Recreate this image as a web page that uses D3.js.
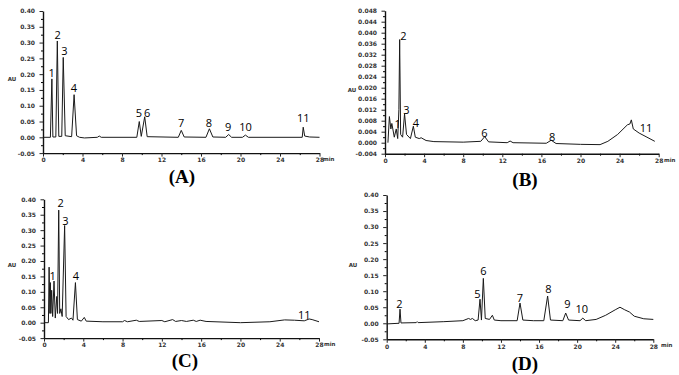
<html>
<head>
<meta charset="utf-8">
<script src="https://d3js.org/d3.v7.min.js"></script>
<style>
  body { margin: 0; background: #fff; }
  .tick text { font-family: "DejaVu Sans", Verdana, sans-serif; font-weight: bold; font-size: 6px; fill: #333; }
  .peak { font-family: "Open Sans", Lato, sans-serif; font-size: 11px; fill: #000; }
  .title { font-family: "Liberation Serif", "Times New Roman", serif; font-weight: bold; font-size: 19px; fill: #000; }
  .unit { font-family: "DejaVu Sans", Verdana, sans-serif; font-weight: bold; font-size: 5.5px; fill: #333; }
</style>
</head>
<body>
<svg id="chart" width="679" height="375"></svg>
<script>
// retention time (min), absorbance (AU)
const traceA = [[0,0],[0.75,0],[0.9,0.185],[1.0,0.001],[1.3,0.001],[1.45,0.305],[1.6,0.003],[1.9,0.003],[2.05,0.253],[2.25,0.005],
  [2.9,0.002],[3.15,0.135],[3.4,0.005],[3.7,0],[4.2,-0.002],[5.5,0],[5.7,0.004],[5.9,0],[9.5,0],[9.75,0.05],[9.95,0.003],
  [10.3,0.065],[10.55,0.002],[13.7,0],[14.0,0.022],[14.3,0.001],[16.5,0],[16.85,0.027],[17.2,0.001],[18.5,0],[18.8,0.009],
  [19.1,0],[20.2,0],[20.5,0.007],[20.8,0],[26.25,0],[26.35,0.032],[26.5,0.004],[27,0.001],[28,0]];
const traceB = [[0.3,0],[0.45,0.0095],[0.6,0.005],[0.7,0.007],[0.95,0.002],[1.15,0.005],[1.3,0.0015],[1.42,0.012],[1.5,0.0375],
  [1.6,0.003],[1.8,0.002],[2.0,0.0105],[2.2,0.003],[2.6,0.0015],[2.9,0.006],[3.1,0.002],[3.5,0.0015],[3.7,0.0018],[4.2,0.0008],
  [5,0.0004],[8,0.0002],[9.8,0.0005],[10.2,0.0022],[10.6,0.0003],[12.5,0],[12.8,0.0006],[13.1,0],[16.5,-0.0002],[17.0,0.0009],
  [17.5,-0.0003],[20,-0.0006],[22,-0.0007],[22.8,0.0005],[23.8,0.003],[24.8,0.0065],[25.05,0.0068],[25.2,0.0083],[25.4,0.005],
  [26,0.0035],[26.8,0.002],[27.6,0.0005]];
const traceC = [[0,0],[0.45,0],[0.52,0.18],[0.6,0.03],[0.65,0.13],[0.7,0.03],[0.78,0.105],[0.88,0.02],[1.02,0.135],[1.15,0.015],
  [1.3,0.085],[1.38,0.03],[1.5,0.365],[1.6,0.03],[1.72,0.045],[1.85,0.02],[2.1,0.315],[2.25,0.02],[2.5,0.01],[2.8,0.015],
  [2.95,0.008],[3.2,0.13],[3.4,0.01],[3.8,0.005],[4.1,0.017],[4.3,0.005],[6,0.003],[8,0.003],[8.2,0.007],[8.5,0.003],[9.4,0.008],
  [9.7,0.004],[12,0.007],[12.3,0.003],[13.1,0.01],[13.4,0.004],[14,0.007],[14.5,0.004],[15.2,0.008],[15.5,0.004],[15.9,0.008],
  [16.5,0.004],[20,0],[23,0.003],[24.5,0.009],[25.5,0.008],[26.5,0.006],[27,0.012],[27.3,0.01],[28,0.003]];
const traceD = [[0,-0.002],[1.3,0],[1.4,0.044],[1.5,0.001],[3.1,0.002],[3.2,0.005],[3.3,0.002],[6,0.005],[8,0.008],[8.6,0.015],
  [8.8,0.012],[9.0,0.015],[9.3,0.008],[9.6,0.01],[9.8,0.075],[9.95,0.01],[10.15,0.14],[10.35,0.015],[10.8,0.012],[11.1,0.025],
  [11.3,0.01],[12,0.008],[13.7,0.008],[14.0,0.063],[14.3,0.01],[15.4,0.008],[16.5,0.008],[16.9,0.085],[17.2,0.01],[18.5,0.008],
  [18.8,0.032],[19.1,0.01],[20.3,0.008],[20.6,0.016],[20.9,0.008],[22,0.012],[23,0.025],[24,0.042],[24.5,0.05],[25,0.042],
  [25.5,0.035],[26,0.022],[27,0.014],[28,0.012]];

// peak numbers: [text, time, AU]
const labelsA = [["1",0.88,0.203],["2",1.49,0.324],["3",2.16,0.273],["4",3.14,0.156],["5",9.7,0.077],["6",10.55,0.077],
  ["7",14.0,0.045],["8",16.8,0.045],["9",18.75,0.033],["10",20.5,0.033],["11",26.35,0.061]];
const labelsB = [["1",1.3,0.0068],["2",1.88,0.0388],["3",2.2,0.0119],["4",3.17,0.0071],["6",10.16,0.0036],["8",17.1,0.0022],["11",26.7,0.0052]];
const labelsC = [["1",0.89,0.152],["2",1.7,0.387],["3",2.17,0.331],["4",3.26,0.152],["11",26.5,0.025]];
const labelsD = [["2",1.33,0.06],["5",9.52,0.09],["6",10.15,0.164],["7",14.0,0.078],["8",16.98,0.106],["9",18.97,0.06],["10",20.48,0.045]];

const xTicks = [0, 4, 8, 12, 16, 20, 24, 28];
const xMinor = [2, 6, 10, 14, 18, 22, 26];
const yTicksAU = [-0.05, 0, 0.05, 0.1, 0.15, 0.2, 0.25, 0.3, 0.35, 0.4];
const yTicksB = [-0.004, 0, 0.004, 0.008, 0.012, 0.016, 0.02, 0.024, 0.028, 0.032, 0.036, 0.04, 0.044, 0.048];
const panelNames = ["(A)", "(B)", "(C)", "(D)"];

const svg = d3.select('svg#chart');

function drawPanel(p) {
  const x = d3.scaleLinear().domain([0, 28]).range(p.xr);
  const y = d3.scaleLinear().domain(p.yd).range(p.yr);
  const g = svg.append('g');
  const f = d3.format(p.fmt);

  const step = p.yt[1] - p.yt[0];
  const yMinor = p.yt.slice(0, -1).map(v => v + step / 2);

  // minor ticks
  g.append('g').attr('transform', `translate(0,${p.yr[0]})`)
    .call(d3.axisBottom(x).tickValues(xMinor).tickSize(2).tickFormat(''))
    .call(a => a.select('.domain').remove());
  g.append('g').attr('transform', `translate(${p.xr[0]},0)`)
    .call(d3.axisLeft(y).tickValues(yMinor).tickSize(2).tickFormat(''))
    .call(a => a.select('.domain').remove());

  const xa = g.append('g').attr('transform', `translate(0,${p.yr[0]})`)
    .call(d3.axisBottom(x).tickValues(xTicks).tickSize(3.5).tickSizeOuter(0).tickPadding(1.5).tickFormat(d3.format('d')));
  const ya = g.append('g').attr('transform', `translate(${p.xr[0]},0)`)
    .call(d3.axisLeft(y).tickValues(p.yt).tickSize(3.5).tickSizeOuter(0).tickPadding(4.5)
      .tickFormat(d => f(d).replace('\u2212', '-')));
  [xa, ya].forEach(a => {
    a.select('.domain').attr('stroke', '#111').attr('stroke-width', 1.4);
    a.selectAll('.tick line').attr('stroke', '#222');
  });
  g.selectAll('.tick line').attr('stroke-width', 1);

  g.append('path').datum(p.trace)
    .attr('fill', 'none').attr('stroke', '#1a1a1a').attr('stroke-width', 1)
    .attr('stroke-linejoin', 'round')
    .attr('d', d3.line().x(d => x(d[0])).y(d => y(d[1])));

  g.selectAll('text.peak').data(p.labels).join('text')
    .attr('class', 'peak').attr('text-anchor', 'middle')
    .attr('x', d => x(d[1])).attr('y', d => y(d[2]) + 4)
    .text(d => d[0]);

  g.append('text').attr('class', 'unit').attr('x', p.au[0]).attr('y', p.au[1]).attr('text-anchor', 'middle').text('AU');
  g.append('text').attr('class', 'unit').attr('x', p.minX).attr('y', p.yr[0] + 8).text('min');
  g.append('text').attr('class', 'title').attr('x', p.title[0]).attr('y', p.title[1])
    .attr('text-anchor', 'middle').text(p.name);
}

drawPanel({ name: panelNames[0], trace: traceA, labels: labelsA, xr: [43, 319.5], yd: [-0.05, 0.40], yr: [153.1, 11],
  yt: yTicksAU, fmt: '.2f', au: [12, 81], minX: 323, title: [182, 183] });
drawPanel({ name: panelNames[1], trace: traceB, labels: labelsB, xr: [385, 658.7], yd: [-0.004, 0.048], yr: [153.7, 10.7],
  yt: yTicksB, fmt: '.3f', au: [352, 92], minX: 664, title: [525, 186] });
drawPanel({ name: panelNames[2], trace: traceC, labels: labelsC, xr: [44, 319], yd: [-0.05, 0.40], yr: [338.1, 199.3],
  yt: yTicksAU, fmt: '.2f', au: [12, 267], minX: 324, title: [185, 367] });
drawPanel({ name: panelNames[3], trace: traceD, labels: labelsD, xr: [386.7, 653.3], yd: [-0.05, 0.40], yr: [339.3, 195],
  yt: yTicksAU, fmt: '.2f', au: [353, 267], minX: 661, title: [525, 370] });
</script>
</body>
</html>
